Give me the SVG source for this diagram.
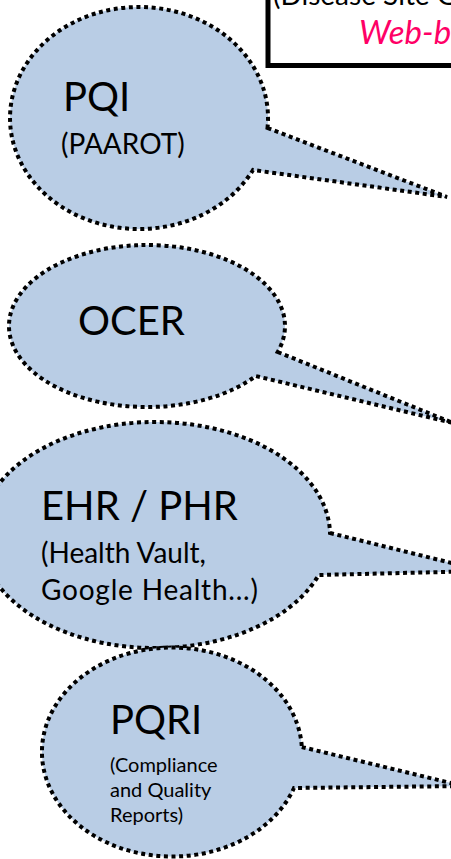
<svg xmlns="http://www.w3.org/2000/svg" width="451" height="859" viewBox="0 0 451 859">
<style>
.bub{fill:#B9CDE5;stroke:#000;stroke-width:4;stroke-dasharray:4 3.6;stroke-linejoin:miter}
.t{font-family:Lato,'Liberation Sans',sans-serif;fill:#000}
.big{font-size:40px}
.sub{font-size:28px}
.small{font-size:20px}
</style>
<rect width="451" height="859" fill="#fff"/>
<g id="header-box">
<rect x="268" y="-20" width="200" height="85.5" fill="#fff" stroke="#000" stroke-width="5"/>
<text class="t" x="273" y="5" font-size="28">(Disease Site G</text>
<text x="359" y="44" font-family="Lato,'Liberation Sans',sans-serif" font-size="33" font-style="italic" fill="#FF0066">Web-b</text>
</g>
<g id="pqi">
<path class="bub" d="M267.5 128 L447 197 L253 170 A129 111 0 1 1 267.5 128 Z"/>
<text class="t big" x="63" y="111">PQI</text>
<text class="t sub" x="61" y="154">(PAAROT)</text>
</g>
<g id="ocer">
<path class="bub" d="M277.7 352 L453 423 L255.6 376 A138 81 0 1 1 277.7 352 Z"/>
<text class="t big" x="78" y="335">OCER</text>
</g>
<g id="ehr-phr">
<path class="bub" d="M330 533 L484 571 L318.7 575 A175 113 0 1 1 330 533 Z"/>
<text class="t big" x="41" y="520">EHR / PHR</text>
<text class="t sub" x="41" y="563">(Health Vault,</text>
<text class="t sub" x="41" y="600" textLength="217" lengthAdjust="spacing">Google Health...)</text>
</g>
<g id="pqri">
<path class="bub" d="M301.8 747 L463 786 L294 788 A130 104.5 0 1 1 301.8 747 Z"/>
<text class="t big" x="110" y="734">PQRI</text>
<text class="t small" x="110" y="772">(Compliance</text>
<text class="t small" x="110" y="797">and Quality</text>
<text class="t small" x="110" y="822">Reports)</text>
</g>
<g id="connectors"></g>
</svg>
